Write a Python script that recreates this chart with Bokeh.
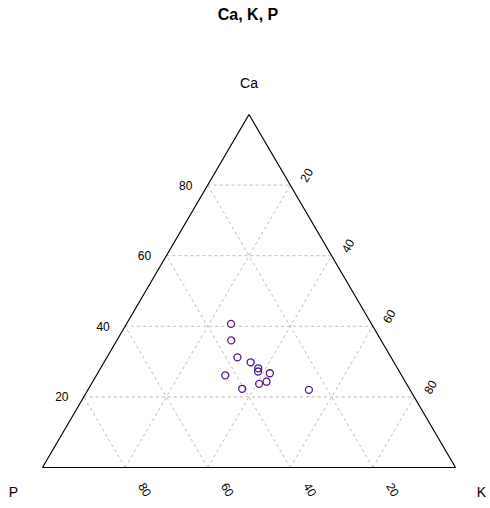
import numpy as np
from bokeh.plotting import figure
from bokeh.models import Range1d
from bokeh.core.properties import value
from bokeh.embed import file_html
from bokeh.resources import INLINE

# Data (fractions): Ca, K, P
ca = [0.407, 0.360, 0.312, 0.298, 0.281, 0.272, 0.267, 0.261, 0.243, 0.237, 0.223, 0.220]
k = [0.253, 0.277, 0.316, 0.355, 0.382, 0.386, 0.417, 0.312, 0.421, 0.406, 0.372, 0.535]
p = [0.340, 0.363, 0.372, 0.347, 0.337, 0.342, 0.316, 0.427, 0.336, 0.357, 0.405, 0.245]

ticks = [0.2, 0.4, 0.6, 0.8]
tick_labels = ["20", "40", "60", "80"]
title_text = "Ca, K, P"
vertex_labels = ["Ca", "K", "P"]

def to_xy(c, kk, pp):
    c = np.asarray(c, float); kk = np.asarray(kk, float); pp = np.asarray(pp, float)
    s = c + kk + pp
    c = c / s; kk = kk / s
    return kk + c / 2.0, c

PXU = 413.0  # pixels per unit x
PXV = 353.0  # pixels per unit y
W, H = 488, 506

p_fig = figure(width=W, height=H, output_backend="svg", toolbar_location=None,
               x_range=Range1d(-42 / PXU, (W - 42) / PXU),
               y_range=Range1d((467 - H) / PXV, 467 / PXV),
               min_border=0, outline_line_color=None)
p_fig.axis.visible = False
p_fig.grid.visible = False

grid_kw = dict(line_color="#BEBEBE", line_dash="3 3", line_width=1)
for t in ticks:
    # constant Ca
    x0, y0 = to_xy([t], [0], [1 - t])
    x1, y1 = to_xy([t], [1 - t], [0])
    p_fig.line([x0[0], x1[0]], [y0[0], y1[0]], **grid_kw)
    # constant K
    x0, y0 = to_xy([0], [t], [1 - t])
    x1, y1 = to_xy([1 - t], [t], [0])
    p_fig.line([x0[0], x1[0]], [y0[0], y1[0]], **grid_kw)
    # constant P
    x0, y0 = to_xy([0], [1 - t], [t])
    x1, y1 = to_xy([1 - t], [0], [t])
    p_fig.line([x0[0], x1[0]], [y0[0], y1[0]], **grid_kw)

# triangle outline
tx, ty = to_xy([0, 0, 1, 0], [0, 1, 0, 0], [1, 0, 0, 1])
p_fig.line(tx, ty, line_color="black", line_width=1.2)

# points
px, py = to_xy(ca, k, p)
p_fig.scatter(px, py, size=7, fill_color=None, line_color="#551A8B", line_width=1.3)

font = value("Liberation Sans")

# Ca tick labels on left edge
lx, ly = to_xy(ticks, [0] * 4, [1 - t for t in ticks])
p_fig.text(lx - 22 / PXU, ly, text=tick_labels, text_font=font, text_font_size="12px",
           text_align="center", text_baseline="middle", text_color="black")

# K tick labels on right edge (rotated)
rx, ry = to_xy([1 - t for t in ticks], ticks, [0] * 4)
p_fig.text(rx + 16 / PXU, ry + 10 / PXV, text=tick_labels, text_font=font, text_font_size="12px",
           text_align="center", text_baseline="middle", angle=np.pi / 3, text_color="black")

# P tick labels on bottom edge (rotated)
bx, by = to_xy([0] * 4, [1 - t for t in ticks], ticks)
p_fig.text(bx + 20 / PXU, by - 22 / PXV, text=tick_labels, text_font=font, text_font_size="12px",
           text_align="center", text_baseline="middle", angle=-np.pi / 3, text_color="black")

# vertex labels
vx, vy = to_xy([1, 0, 0], [0, 1, 0], [0, 0, 1])
vx = vx + np.array([0, 26, -29]) / PXU
vy = vy + np.array([32, -24, -24]) / PXV
p_fig.text(vx, vy, text=vertex_labels, text_font=font, text_font_size="14px",
           text_align="center", text_baseline="middle", text_color="black")

# title
p_fig.text([(247.5 - 42) / PXU], [(467 - 14) / PXV], text=[title_text], text_font=font,
           text_font_size="16px", text_font_style="bold", text_align="center",
           text_baseline="middle", text_color="black")

open("out.html", "w").write(file_html(p_fig, INLINE))
